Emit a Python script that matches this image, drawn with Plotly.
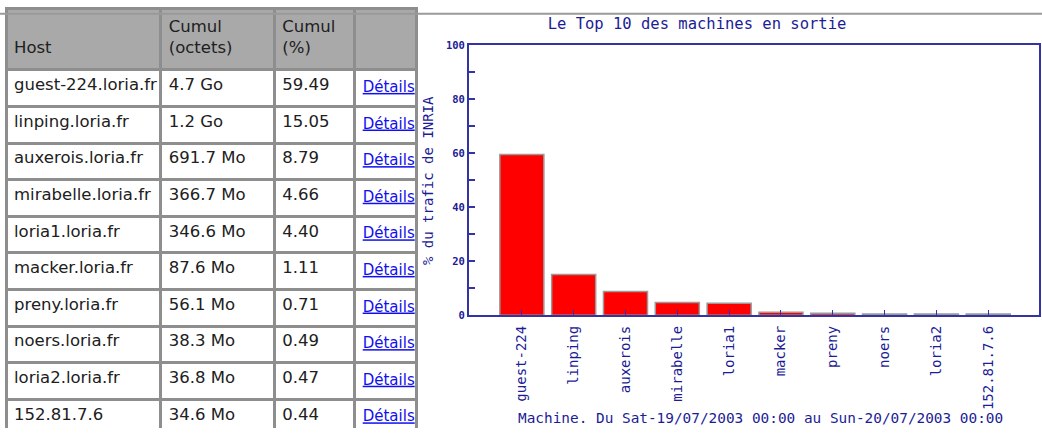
import plotly.graph_objects as go

# ---- data ----
hosts = ["guest-224.loria.fr", "linping.loria.fr", "auxerois.loria.fr", "mirabelle.loria.fr",
         "loria1.loria.fr", "macker.loria.fr", "preny.loria.fr", "noers.loria.fr",
         "loria2.loria.fr", "152.81.7.6"]
machines = ["guest-224", "linping", "auxerois", "mirabelle", "loria1", "macker",
            "preny", "noers", "loria2", "152.81.7.6"]
cumul_octets = ["4.7 Go", "1.2 Go", "691.7 Mo", "366.7 Mo", "346.6 Mo", "87.6 Mo",
                "56.1 Mo", "38.3 Mo", "36.8 Mo", "34.6 Mo"]
cumul_pct = [59.49, 15.05, 8.79, 4.66, 4.40, 1.11, 0.71, 0.49, 0.47, 0.44]
header_labels = ["&nbsp;<br>Host", "Cumul<br>(octets)", "Cumul<br>(%)", ""]
link_label = "Détails"

W, H = 1042, 434


def fx(px):
    return px / W


def fy(py):
    return 1 - py / H


BLUE = "#1c1c96"
LINE = "#3333a6"
GRID_GRAY = "#8e8e8e"

fig = go.Figure()

fig.add_trace(go.Table(
    domain=dict(x=[fx(6), fx(416)], y=[0, fy(3)]),
    columnwidth=[154, 113, 80, 61],
    header=dict(
        values=header_labels,
        fill_color="#a9a9a9",
        line=dict(color=GRID_GRAY, width=3),
        align="left",
        height=61,
        font=dict(family="DejaVu Sans", size=16.5, color="#202020"),
    ),
    cells=dict(
        values=[hosts, cumul_octets, [f"{v:.2f}" for v in cumul_pct],
                [f"<u>{link_label}</u>"] * len(hosts)],
        fill_color="white",
        line=dict(color=GRID_GRAY, width=3),
        align="left",
        height=36.6,
        font=dict(family="DejaVu Sans", size=[16.5, 16.5, 16.5, 15],
                  color=["#202020", "#202020", "#202020", "#1010ee"]),
    ),
))

fig.add_trace(go.Bar(
    x=machines, y=cumul_pct,
    marker=dict(color="#ff0000", line=dict(color="#9a9a9a", width=1.5)),
    width=0.85,
    hoverinfo="x+y",
))

fig.update_layout(
    width=W, height=H,
    margin=dict(l=0, r=0, t=0, b=0),
    paper_bgcolor="white", plot_bgcolor="white",
    showlegend=False,
    font=dict(family="DejaVu Sans Mono", color=BLUE),
    title=dict(text="Le Top 10 des machines en sortie", x=fx(697), xanchor="center",
               y=fy(24), yanchor="middle",
               font=dict(family="DejaVu Sans Mono", size=15.5, color=BLUE)),
    xaxis=dict(
        domain=[fx(469), fx(1039)], type="category", range=[-1.02, 9.98],
        showline=True, mirror=True, linecolor=LINE, linewidth=2,
        ticks="inside", ticklen=5, tickcolor=LINE, tickwidth=1,
        tickangle=-90, ticklabelstandoff=3,
        tickfont=dict(family="DejaVu Sans Mono", size=14, color=BLUE),
        showgrid=False, zeroline=False, fixedrange=True,
    ),
    yaxis=dict(
        domain=[fy(318), fy(40)], range=[0, 100], dtick=20,
        showline=True, mirror=True, linecolor=LINE, linewidth=2,
        ticks="inside", ticklen=6, tickcolor=LINE, tickwidth=1.5,
        minor=dict(dtick=10, ticks="inside", ticklen=6, tickcolor=LINE, tickwidth=1.5),
        tickfont=dict(family="DejaVu Sans Mono", size=10.5, color=BLUE, weight="bold"),
        showgrid=False, zeroline=False, fixedrange=True,
    ),
    annotations=[
        dict(text="% du trafic de INRIA", xref="paper", yref="paper",
             x=fx(428), y=fy(180), xanchor="center", yanchor="middle",
             textangle=-90, showarrow=False,
             font=dict(family="DejaVu Sans Mono", size=14, color=BLUE)),
        dict(text="Machine. Du Sat-19/07/2003 00:00 au Sun-20/07/2003 00:00",
             xref="paper", yref="paper", x=fx(760), y=fy(424),
             xanchor="center", yanchor="middle", showarrow=False,
             font=dict(family="DejaVu Sans Mono", size=14.4, color=BLUE)),
    ],
    shapes=[
        dict(type="line", xref="paper", yref="paper", x0=0, x1=1,
             y0=fy(8), y1=fy(8), line=dict(color="#9a9a9a", width=2)),
    ],
)

fig.write_html("out.html", config={"displayModeBar": False},
               post_script="document.body.style.margin='0';")
